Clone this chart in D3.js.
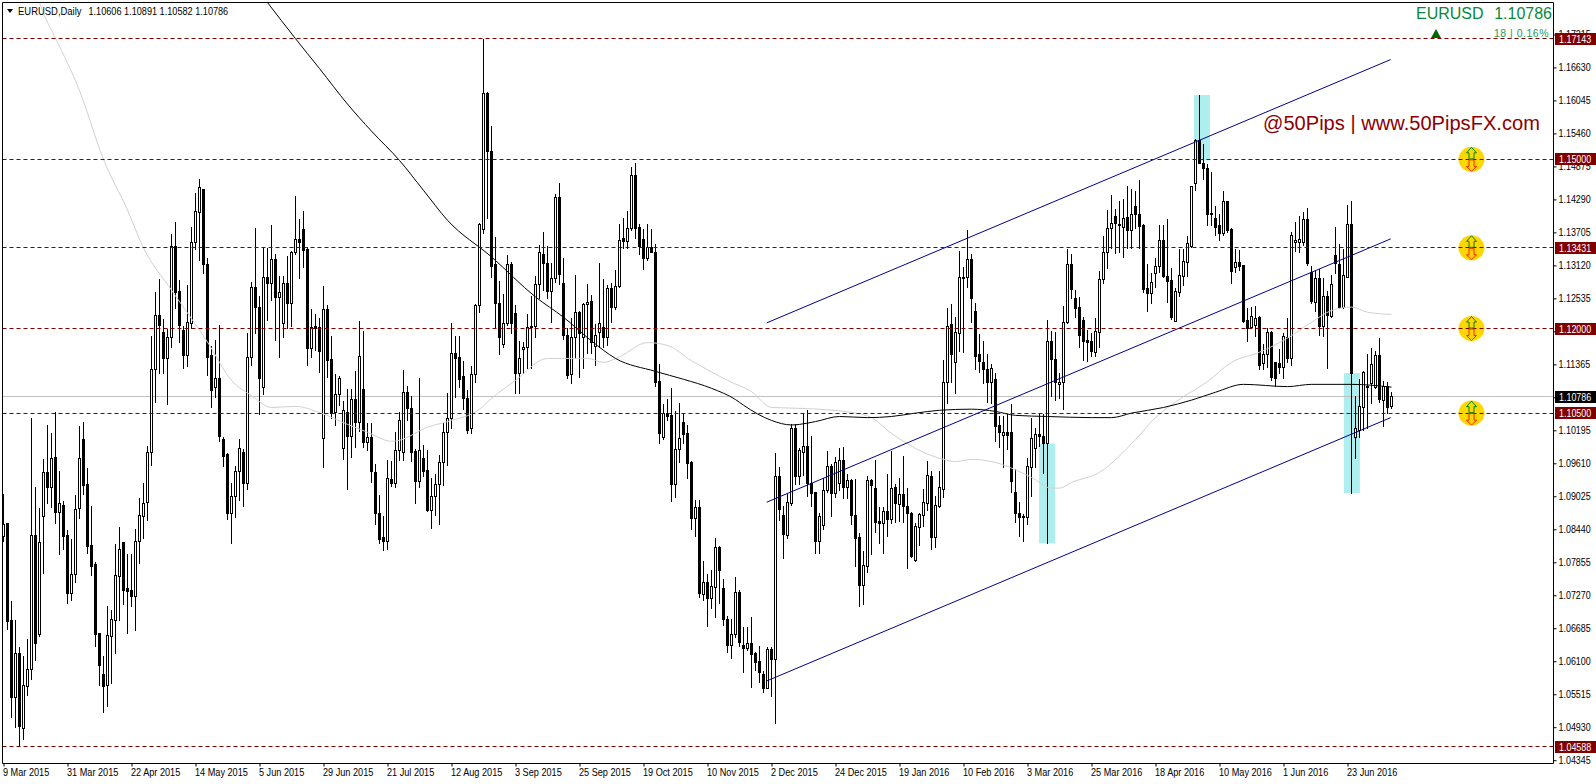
<!DOCTYPE html>
<html>
<head>
<meta charset="utf-8">
<style>
html,body{margin:0;padding:0;background:#fff;overflow:hidden}
svg{display:block}
text{font-family:"Liberation Sans",Arial,sans-serif}
</style>
<script src="https://cdn.jsdelivr.net/npm/d3@7/dist/d3.min.js"></script>
</head>
<body>
<script>
// Prices are in units of 0.0001
const direction = "WFFWFWWWFW"+"WFWFWFFWWW"+"FFFFFFWWWW"+"FFFWWWWWWF"+"FWWFFFWWWW"+"FFFWFFFWWW"+"FWWFFWFWFW"+"WFWWFFFWFF"+"WFFWWWFWFW"+"FWFFFFWFWW"+
"WFFFWFFWWW"+"WWWFFFFWWW"+"WFFFFWWFFW"+"WWWWWFFWWF"+"FFWWFWWFWW"+"FWFWWFWWFF"+"FWFFFWFFWW"+"FFFWFWFWWF"+"FFWWFFWFFF"+"FWFWFFWWFW"+
"WFFFWWWFWW"+"FWFFFWWFFF"+"WFWFWFFFWW"+"WWFWWWWFWW"+"WWFFFFFWFF"+"WFFFFWWWWF"+"FWFFWWWFFF"+"FFFWWWWWFF"+"WFWFFFFWWW"+"FFFWWWWWWF"+
"FFWFFWFFWF"+"FFWWFWWFFF"+"WFWWWWFFWF"+"WFWFFWWFWW"+"WFWWFWFW";
const bodyTops = [
10853,10854,10682,10623,10623,10567,10596,10833,10833,10821,
10945,10944,10970,10972,10889,10886,10833,10763,10879,10970,
11003,10923,10815,10781,10659,10586,10655,10684,10762,10808,
10820,10739,10736,10823,10868,10890,10981,11128,11223,11223,
11193,11184,11346,11346,11266,11197,11211,11353,11408,11450,
11447,11314,11152,11112,11112,11003,10977,10902,10947,10988,
10980,11149,11273,11273,11238,11291,11291,11323,11323,11264,
11280,11280,11335,11358,11358,11376,11340,11202,11204,11202,
11234,11234,11145,11083,11112,11055,11051,11074,11074,11151,
11092,11007,11007,10945,10872,10830,10934,10932,10984,11037,
11087,11087,11058,10982,10984,10970,10948,10902,10924,10963,
11016,11041,11156,11156,11149,11115,11076,11119,11241,11385,
11617,11617,11514,11314,11245,11209,11314,11314,11227,11147,
11167,11202,11204,11278,11335,11332,11316,11289,11433,11433,
11280,11188,11184,11229,11229,11243,11246,11248,11188,11209,
11202,11271,11271,11275,11356,11360,11378,11472,11472,11379,
11358,11344,11344,11335,11106,11050,11050,11046,10986,11005,
11034,11014,10963,10883,10883,10750,10750,10743,10812,10812,
10739,10684,10658,10732,10732,10638,10642,10642,10624,10610,
10587,10631,10631,10938,10938,10869,10892,11023,11023,10984,
10991,10991,10925,10909,10867,10913,10956,10956,10963,10966,
10966,10931,10931,10869,10830,10780,10931,10931,10917,10858,
10876,10876,10917,10918,10906,10906,10885,10872,10849,10870,
10892,10940,10938,10886,10918,11105,11204,11207,11193,11291,
11291,11323,11323,11230,11154,11140,11128,11129,11110,11028,
11016,11016,11016,10909,10872,10867,10956,11005,11012,11012,
11009,11177,11177,11145,11105,11211,11314,11314,11254,11238,
11214,11179,11177,11195,11287,11335,11378,11387,11399,11385,
11395,11397,11402,11417,11402,11383,11271,11282,11310,11356,
11356,11293,11285,11266,11294,11319,11351,11452,11534,11534,
11493,11484,11404,11395,11383,11425,11425,11376,11317,11317,
11312,11214,11222,11218,11220,11154,11193,11193,11140,11138,
11186,11184,11365,11356,11358,11394,11394,11300,11289,11289,
11257,11257,11278,11330,11314,11294,11385,11385,11023,11062,
11122,11097,11136,11152,11152,11097,11097,11079];
const bodyBottoms = [
10831,10681,10546,10546,10494,10490,10565,10596,10641,10657,
10867,10918,10918,10874,10874,10831,10731,10731,10763,10880,
10921,10814,10778,10657,10603,10565,10567,10654,10682,10760,
10736,10733,10724,10724,10822,10866,10892,10980,11128,11206,
11147,11147,11184,11264,11206,11152,11152,11209,11353,11406,
11314,11149,11090,11096,11009,10973,10872,10872,10902,10947,
10925,10925,11149,11238,11112,11096,11280,11280,11255,11255,
11209,11245,11245,11335,11353,11339,11165,11165,11200,11160,
11005,11144,11050,11051,11083,10988,11009,11009,11034,11034,
10998,10998,10947,10872,10826,10823,10823,10925,10925,10984,
10980,11058,10980,10929,10929,10947,10878,10878,10902,10924,
10963,11016,11041,11147,11110,11076,11019,11023,11119,11241,
11376,11514,11310,11245,11184,11172,11209,11209,11120,11120,
11163,11167,11202,11204,11278,11316,11266,11266,11289,11296,
11188,11117,11119,11184,11191,11184,11243,11175,11168,11193,
11184,11184,11238,11238,11275,11355,11355,11378,11378,11346,
11324,11324,11335,11105,11014,11007,11044,10924,10924,10986,
11012,10961,10863,10863,10730,10729,10722,10722,10741,10771,
10684,10638,10638,10658,10643,10633,10633,10622,10608,10590,
10562,10562,10613,10613,10879,10835,10833,10890,10938,10938,
10980,10925,10908,10823,10823,10851,10913,10908,10908,10925,
10918,10918,10869,10828,10745,10745,10778,10922,10856,10855,
10855,10862,10862,10890,10888,10885,10872,10796,10789,10847,
10869,10890,10830,10830,10885,10915,11105,11154,11140,11191,
11289,11291,11254,11151,11142,11128,11105,11105,11027,11016,
11011,11011,10929,10872,10865,10865,10865,10954,10988,11009,
10996,10996,11145,11105,11101,11105,11211,11269,11236,11188,
11177,11175,11160,11158,11193,11287,11335,11378,11387,11383,
11379,11374,11374,11402,11381,11269,11262,11262,11298,11310,
11293,11284,11220,11213,11264,11293,11317,11346,11457,11493,
11484,11402,11402,11379,11369,11369,11374,11301,11308,11310,
11213,11200,11202,11206,11135,11138,11154,11113,11112,11131,
11131,11147,11147,11353,11353,11353,11316,11248,11246,11204,
11204,11223,11222,11316,11238,11238,11291,11120,11007,11019,
11060,11096,11103,11096,11074,11073,11060,11061];
const highs = [
10907,10855,10717,10684,10636,10620,10651,11042,10919,10882,
10970,11029,11016,11052,10948,10895,10844,10828,10905,11028,
11036,10954,10887,10787,10659,10620,10708,10701,10818,10849,
10820,10801,10801,10846,10901,10927,10992,11188,11266,11289,
11218,11200,11369,11390,11287,11206,11278,11381,11442,11466,
11449,11326,11170,11181,11207,11009,10980,10927,10957,11005,
10988,11193,11284,11379,11259,11346,11344,11385,11333,11294,
11294,11330,11339,11436,11395,11410,11346,11236,11227,11220,
11277,11243,11188,11121,11117,11073,11094,11094,11126,11215,
11197,11034,11034,10961,10906,10869,10968,10966,11018,11053,
11128,11099,11081,10987,11113,10995,10986,10936,10943,10977,
11034,11087,11211,11188,11188,11144,11092,11135,11245,11388,
11715,11621,11560,11363,11285,11262,11332,11319,11243,11179,
11177,11227,11259,11294,11349,11372,11348,11317,11440,11459,
11326,11202,11220,11296,11232,11246,11280,11261,11209,11317,
11289,11278,11282,11305,11387,11397,11410,11488,11495,11387,
11378,11387,11378,11351,11138,11067,11076,11096,11055,11069,
11051,11030,10966,10897,10897,10789,10766,10773,10830,10816,
10757,10691,10686,10761,10737,10672,10672,10690,10627,10638,
10594,10636,10636,10980,10956,10886,10908,11032,11032,10989,
11050,11057,11011,10909,10874,10936,10984,10961,10973,10989,
10991,10943,10934,10934,10839,10807,10940,10934,10968,10885,
10885,10943,10984,10925,10936,10975,10918,10876,10856,10874,
10917,10966,10948,10904,10948,11145,11238,11245,11222,11339,
11310,11376,11333,11246,11191,11179,11156,11138,11122,11046,
11046,11050,11067,10952,10893,10872,10972,11042,11025,11050,
11050,11216,11197,11195,11122,11241,11342,11333,11269,11257,
11222,11198,11193,11220,11303,11365,11411,11438,11413,11427,
11431,11454,11449,11445,11465,11387,11316,11300,11326,11385,
11385,11395,11308,11273,11342,11342,11365,11454,11537,11615,
11528,11493,11479,11418,11404,11445,11427,11379,11342,11340,
11314,11238,11239,11241,11223,11174,11202,11197,11140,11165,
11193,11220,11372,11390,11401,11408,11415,11312,11303,11307,
11291,11268,11296,11381,11351,11342,11420,11427,11081,11112,
11126,11156,11167,11161,11184,11108,11106,11089];
const lows = [
10822,10666,10510,10493,10460,10472,10549,10578,10611,10653,
10765,10889,10882,10854,10799,10808,10712,10718,10750,10863,
10905,10801,10762,10636,10567,10519,10530,10570,10623,10682,
10710,10659,10707,10665,10783,10827,10860,10957,11069,11120,
11120,11066,11167,11236,11175,11129,11133,11200,11340,11321,
11298,11117,11060,11078,11000,10956,10862,10819,10865,10895,
10885,10915,11135,11191,11048,11083,11215,11250,11179,11149,
11184,11200,11204,11332,11289,11308,11135,11149,11161,11122,
10954,11113,11041,11028,11064,10968,10915,10972,10989,11018,
10989,10984,10927,10853,10819,10807,10808,10920,10918,10966,
10966,11037,10964,10890,10918,10938,10876,10846,10869,10853,
10922,10957,11023,11078,11096,11057,11014,11014,11105,11229,
11369,11395,11291,11200,11154,11167,11206,11191,11085,11085,
11120,11129,11129,11184,11253,11268,11253,11211,11282,11278,
11181,11112,11103,11147,11113,11129,11156,11156,11135,11167,
11167,11170,11211,11234,11273,11342,11342,11374,11360,11332,
11305,11321,11335,11097,10996,11003,11037,10893,10901,10963,
10996,10934,10844,10831,10723,10718,10672,10704,10688,10713,
10674,10626,10615,10652,10636,10590,10629,10564,10594,10572,
10555,10562,10548,10500,10860,10792,10828,10886,10924,10924,
10940,10902,10885,10801,10801,10844,10909,10867,10901,10913,
10899,10899,10853,10778,10707,10711,10768,10800,10839,10819,
10801,10831,10855,10856,10858,10856,10775,10794,10787,10816,
10849,10878,10808,10812,10883,10901,11067,11105,11085,11160,
11158,11273,11211,11128,11122,11103,11069,11067,11000,10989,
10954,10986,10909,10856,10831,10823,10853,10902,10954,10991,
10943,10819,11080,11073,11076,11057,11209,11254,11220,11167,
11144,11142,11151,11151,11167,11280,11307,11342,11333,11335,
11326,11342,11342,11378,11342,11264,11230,11245,11273,11300,
11291,11246,11216,11213,11257,11277,11293,11344,11445,11493,
11465,11383,11383,11365,11356,11365,11371,11280,11300,11303,
11211,11177,11200,11186,11128,11128,11131,11108,11097,11120,
11112,11140,11135,11337,11335,11347,11312,11245,11230,11188,
11186,11129,11220,11298,11236,11236,11291,10908,10970,11007,
11019,11023,11067,11094,11069,11027,11050,11058];

const maBlackBars = [66,73,79,86,92,99,105,111,122,133,140,147,153,163,170,177,183,185,192,197,199,203,209,216,222,228,234,242,248,253,261,272,277,282,290,297,303,310,321,327,337,347];
const maBlackVals = [11778,11714,11661,11598,11550,11498,11445,11392,11327,11256,11220,11178,11147,11124,11110,11094,11074,11064,11037,11029,11030,11035,11044,11042,11044,11050,11055,11057,11053,11046,11044,11042,11042,11050,11060,11073,11087,11101,11097,11101,11101,11096];
const maGrayBars = [9,10,13,19,25,31,35,42,51,57,62,67,73,79,86,91,97,99,106,111,119,122,128,136,146,150,154,161,166,172,176,181,187,192,201,212,217,222,235,238,242,247,257,262,264,267,274,283,288,292,301,307,314,321,327,332,337,341,347];
const maGrayVals = [11778,11759,11715,11622,11500,11410,11343,11268,11176,11108,11081,11060,11062,11051,11030,11016,11000,11002,11025,11035,11057,11076,11108,11147,11147,11140,11150,11175,11170,11143,11127,11108,11088,11060,11058,11051,11042,11014,10968,10964,10968,10964,10936,10917,10917,10927,10945,11003,11042,11065,11106,11140,11158,11183,11211,11232,11238,11229,11225];

const channelBars = [190.8,346.8];
const channelUpper = [11210,11677];
const channelMiddle = [10892,11359];
const channelLower = [10575,11042];

const levels = [1.17143,1.15000,1.13431,1.12000,1.10500,1.04588];
const levelLabels = ["1.17143","1.15000","1.13431","1.12000","1.10500","1.04588"];
const lastPrice = 1.10786;
const signalLevels = [1.15000,1.13431,1.12000,1.10500];
const signalBar = 367;

const highlightBars = [[258.9,262.9],[297.6,301.6],[335.1,339.1]];
const highlightTops = [10996,11614,11121];
const highlightBottoms = [10819,11498,10908];

const yTicks = [1.17215,1.16630,1.16045,1.15460,1.14875,1.14290,1.13705,1.13120,1.12535,1.11950,1.11365,1.10780,1.10195,1.09610,1.09025,1.08440,1.07855,1.07270,1.06685,1.06100,1.05515,1.04930,1.04345];
const xTickBars = [0,16,32,48,64,80,96,112,128,144,160,176,192,208,224,240,256,272,288,304,320,336];
const xTickLabels = ["9 Mar 2015","31 Mar 2015","22 Apr 2015","14 May 2015","5 Jun 2015","29 Jun 2015","21 Jul 2015","12 Aug 2015","3 Sep 2015","25 Sep 2015","19 Oct 2015","10 Nov 2015","2 Dec 2015","24 Dec 2015","19 Jan 2016","10 Feb 2016","3 Mar 2016","25 Mar 2016","18 Apr 2016","10 May 2016","1 Jun 2016","23 Jun 2016"];

const W=1596,H=784,L=2.5,R=1553.5,T=2.5,B=763.5;
const x=d3.scaleLinear().domain([0,347]).range([3.5,1391.5]);
const y=d3.scaleLinear().domain([1.04588,1.17143]).range([746.5,38.5]);
const py=v=>Math.round(y(v/10000)-0.5)+0.5;
const svg=d3.select("body").append("svg").attr("width",W).attr("height",H);
const defs=svg.append("defs");
defs.append("clipPath").attr("id","plot").append("rect").attr("x",L).attr("y",T).attr("width",R-L).attr("height",B-T);
const plot=svg.append("g").attr("clip-path","url(#plot)");
// Tall, slightly condensed UI text
const condense=(sel,f)=>sel.each(function(){
 const len=this.getComputedTextLength();
 d3.select(this).attr("textLength",len*f).attr("lengthAdjust","spacingAndGlyphs");
});

// highlight blocks
plot.selectAll("rect.hl").data(highlightBars).join("rect").attr("class","hl")
 .attr("x",d=>x(d[0])).attr("width",d=>x(d[1])-x(d[0]))
 .attr("y",(d,i)=>y(highlightTops[i]/10000)).attr("height",(d,i)=>y(highlightBottoms[i]/10000)-y(highlightTops[i]/10000))
 .attr("fill","#afeeee");

// last price line
const lastY=Math.round(y(lastPrice)-0.5)+0.5;
plot.append("line").attr("x1",L).attr("x2",R).attr("y1",lastY).attr("y2",lastY).attr("stroke","#c0c0c0");

// candles
const idx=d3.range(direction.length);
const c=plot.append("g").attr("shape-rendering","crispEdges").selectAll("g").data(idx).join("g");
c.append("line").attr("x1",i=>x(i)).attr("x2",i=>x(i)).attr("y1",i=>py(highs[i])).attr("y2",i=>py(lows[i])).attr("stroke","#000");
c.append("rect")
 .attr("x",i=>direction[i]==="F"?x(i)-1.5:x(i)-1)
 .attr("width",i=>direction[i]==="F"?3:2)
 .attr("y",i=>py(bodyTops[i])-(direction[i]==="F"?0.5:0))
 .attr("height",i=>Math.max(1,py(bodyBottoms[i])-py(bodyTops[i]))+(direction[i]==="F"?1:0))
 .attr("fill",i=>direction[i]==="F"?"#000":"#fff")
 .attr("stroke",i=>direction[i]==="F"?"none":"#000");

// moving averages
const lineGen=d3.line().x(d=>x(d[0])).y(d=>y(d[1]/10000));
const smooth=d3.line().x(d=>x(d[0])).y(d=>y(d[1]/10000)).curve(d3.curveMonotoneX);
plot.append("path").attr("d",smooth(maGrayBars.map((b,i)=>[b,maGrayVals[i]]))).attr("fill","none").attr("stroke","#d0d0d0").attr("stroke-width",1);
plot.append("path").attr("d",smooth(maBlackBars.map((b,i)=>[b,maBlackVals[i]]))).attr("fill","none").attr("stroke","#000").attr("stroke-width",1);

// channel
[channelUpper,channelMiddle,channelLower].forEach(ch=>{
 plot.append("path").attr("d",lineGen(channelBars.map((b,i)=>[b,ch[i]]))).attr("fill","none").attr("stroke","#00008b").attr("stroke-width",1);
});

// signal discs
plot.selectAll("ellipse").data(signalLevels).join("ellipse")
 .attr("cx",x(signalBar)).attr("cy",d=>y(d)).attr("rx",13).attr("ry",12.5).attr("fill","#ffd700");

// levels
plot.selectAll("line.lv").data(levels).join("line").attr("class","lv")
 .attr("x1",L).attr("x2",R).attr("y1",d=>Math.round(y(d)-0.5)+0.5).attr("y2",d=>Math.round(y(d)-0.5)+0.5)
 .attr("stroke","#800000").attr("stroke-dasharray","4,3");

// signal arrows
const arrows=plot.selectAll("g.ar").data(signalLevels).join("g").attr("class","ar")
 .attr("transform",d=>`translate(${x(signalBar)},${y(d)})`);
arrows.append("path").attr("d","M0,-12L5,-6.5L2.5,-6.5L2.5,-0.5L-2.5,-0.5L-2.5,-6.5L-5,-6.5Z").attr("fill","none").attr("stroke","#008000");
arrows.append("path").attr("d","M-2.5,0.5L2.5,0.5L2.5,7L5,7L0,12L-5,7L-2.5,7Z").attr("fill","none").attr("stroke","#ff2000");

// frame
svg.append("path").attr("d",`M${L},${B}L${L},${T}L${R},${T}L${R},${B}L${L},${B}`).attr("fill","none").attr("stroke","#000");

// axes
const yAxis=d3.axisRight(y).tickValues(yTicks).tickFormat(d3.format(".5f")).tickSize(3).tickPadding(2);
const gy=svg.append("g").attr("transform",`translate(${R},0)`).call(yAxis);
gy.select(".domain").remove();
const xAxis=d3.axisBottom(x).tickValues(xTickBars).tickFormat((d,i)=>xTickLabels[i]).tickSize(3).tickPadding(3);
const gx=svg.append("g").attr("transform",`translate(0,${B})`).call(xAxis);
gx.select(".domain").remove();
gx.selectAll("text").attr("text-anchor","start").attr("dx",-1).attr("y",5).attr("font-size",10.5).attr("font-family","'Liberation Sans',sans-serif").attr("fill","#000").call(condense,0.87);
gy.selectAll("text").attr("font-size",10.5).attr("font-family","'Liberation Sans',sans-serif").attr("fill","#000").call(condense,0.85);

// price tags
const tags=svg.selectAll("g.tag").data(levels.map((v,i)=>({v,t:levelLabels[i],c:"#800000"})).concat([{v:lastPrice,t:"1.10786",c:"#000"}])).join("g").attr("class","tag");
tags.append("rect").attr("x",1555).attr("width",41).attr("y",d=>Math.round(y(d.v))-6).attr("height",12).attr("fill",d=>d.c);
tags.append("text").attr("x",1559).attr("y",d=>Math.round(y(d.v))+4).attr("font-size",10.5).attr("fill","#fff").text(d=>d.t).call(condense,0.85);

// header texts
svg.append("path").attr("d","M7,9L13,9L10,13Z").attr("fill","#000");
svg.append("text").attr("x",18).attr("y",14.5).attr("font-size",10.5).attr("fill","#000").text("EURUSD,Daily").call(condense,0.9);
svg.append("text").attr("x",88.5).attr("y",14.5).attr("font-size",10.5).attr("fill","#000").text("1.10606 1.10891 1.10582 1.10786").call(condense,0.87);
svg.append("text").attr("x",1416).attr("y",19).attr("font-size",16).attr("fill","#07893c").text("EURUSD");
svg.append("text").attr("x",1552).attr("y",19).attr("text-anchor","end").attr("font-size",16).attr("fill","#07893c").text("1.10786");
svg.append("text").attr("x",1549).attr("y",37).attr("text-anchor","end").attr("font-size",10.5).attr("letter-spacing",0.5).attr("fill","#2a9a55").text("18 | 0.16%");
svg.append("path").attr("d","M1431,38L1441,38L1436,29Z").attr("fill","#006400");
svg.append("text").attr("x",1263).attr("y",130).attr("font-size",20.1).attr("fill","#8b0000").text("@50Pips | www.50PipsFX.com");
</script>
</body>
</html>
